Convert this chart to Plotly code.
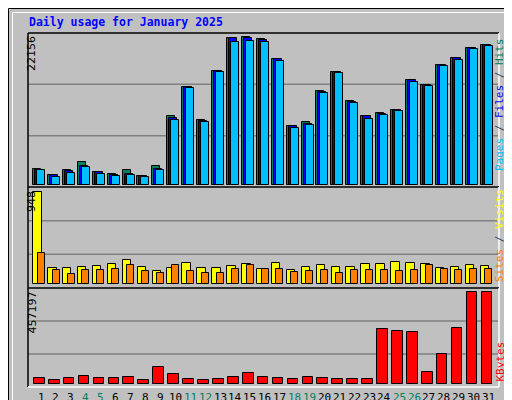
import numpy as np
import plotly.graph_objects as go

days = list(range(1, 32))
hits = [2355, 1455, 2205, 3405, 1905, 1605, 2205, 1305, 2805, 10305, 14655, 9705, 17055, 22005, 22156, 21855,
        18855, 8805, 9405, 14055, 16905, 12555, 10305, 10755, 11205, 15705, 14955, 17955, 19005, 20505, 20955]
files = [2205, 1455, 2055, 2805, 1905, 1530, 1605, 1305, 2355, 10005, 14655, 9555, 17055, 22005, 21950, 21705,
         18855, 8805, 9105, 13905, 16905, 12405, 10305, 10605, 11205, 15705, 14955, 17955, 19005, 20505, 20955]
pages = [2160, 1155, 1830, 2655, 1680, 1305, 1455, 1155, 2205, 9705, 14505, 9405, 16905, 21405, 21555, 21405,
         18555, 8505, 8955, 13755, 16755, 12255, 9855, 10455, 11055, 15405, 14805, 17805, 18705, 20355, 20805]
sites = [948, 165, 165, 175, 185, 206, 251, 175, 134, 165, 216, 165, 165, 185, 206, 155,
         216, 144, 175, 196, 175, 175, 206, 206, 227, 216, 206, 165, 175, 196, 185]
visits = [319, 144, 103, 144, 144, 155, 196, 134, 113, 196, 134, 113, 113, 155, 196, 155,
          155, 124, 134, 144, 113, 144, 144, 144, 134, 144, 196, 155, 144, 155, 155]
kbytes = [26700, 16700, 26700, 36700, 26700, 26700, 31700, 16700, 81760, 46720, 21690, 16700, 21690, 31700, 51730, 31700,
          26700, 21690, 31700, 26700, 21690, 21690, 21690, 271980, 261970, 256960, 56730, 146840, 276990, 457197, 457197]
weekend = [4, 5, 11, 12, 18, 19, 25, 26]

W, H = 512, 400
BG = "#C0C0C0"
C_HITS, C_FILES, C_PAGES = "#00805C", "#0000FF", "#00BFFF"
C_SITES, C_VISITS, C_KB = "#FF8000", "#FFFF00", "#FF0000"

def px(x):
    return x / W

def py(y):
    return 1 - y / H

# panels in pixels: (top, bottom, y of max bar top, y of baseline)
panels = [(25, 179, 29, 176.7), (179, 280, 184.3, 276.3), (280, 379, 284.3, 375.7)]
maxes = [max(hits), max(sites), max(kbytes)]

def yrange(p, m):
    top, bot, ytop, ybase = p
    s = m / (ybase - ytop)
    return [-(bot - ybase) * s, m + (ytop - top) * s]

d = np.array(days, dtype=float)
dpx = 14.92  # pixels per day

fig = go.Figure()
line = dict(color="black", width=1)
fig.add_bar(x=d - 4 / dpx, y=hits, width=8 / dpx, marker=dict(color=C_HITS, line=line), yaxis="y")
fig.add_bar(x=d - 2 / dpx, y=files, width=8 / dpx, marker=dict(color=C_FILES, line=line), yaxis="y")
fig.add_bar(x=d, y=pages, width=8 / dpx, marker=dict(color=C_PAGES, line=line), yaxis="y")
fig.add_bar(x=d - 3.6 / dpx, y=sites, width=8.5 / dpx, marker=dict(color=C_VISITS, line=line), xaxis="x2", yaxis="y2")
fig.add_bar(x=d + 0.2 / dpx, y=visits, width=7 / dpx, marker=dict(color=C_SITES, line=line), xaxis="x2", yaxis="y2")
fig.add_bar(x=d - 1.7 / dpx, y=kbytes, width=10.7 / dpx, marker=dict(color=C_KB, line=line), xaxis="x3", yaxis="y3")

xr = [1 - 13 / dpx, 1 + 458 / dpx]
xdom = [px(20), px(491)]
ticktext = [f'<span style="color:{C_HITS}">{v}</span>' if v in weekend else str(v) for v in days]

shapes = []
# outer frame
shapes.append(dict(type="rect", xref="paper", yref="paper", x0=px(507), x1=1, y0=0, y1=py(3),
                   fillcolor="#808080", line_width=0))
shapes.append(dict(type="rect", xref="paper", yref="paper", x0=px(3), x1=1, y0=0, y1=py(396),
                   fillcolor="#808080", line_width=0))
shapes.append(dict(type="rect", xref="paper", yref="paper", x0=px(0.5), x1=px(511.5), y0=py(399.5), y1=py(0.5),
                   line=dict(color="black", width=1)))
shapes.append(dict(type="line", xref="paper", yref="paper", x0=px(4.5), x1=px(507), y0=py(4.5), y1=py(4.5),
                   line=dict(color="white", width=1)))
shapes.append(dict(type="line", xref="paper", yref="paper", x0=px(4.5), x1=px(4.5), y0=py(4.5), y1=py(396),
                   line=dict(color="white", width=1)))
for top, bot, _, _ in panels:
    for k in (1, 2):
        gy = top + (bot - top) * k / 3
        shapes.append(dict(type="line", xref="paper", yref="paper", x0=px(20), x1=px(490), y0=py(gy), y1=py(gy),
                           line=dict(color="#808080", width=1.5), layer="below"))
    shapes.append(dict(type="line", xref="paper", yref="paper", x0=px(20), x1=px(491), y0=py(top), y1=py(top),
                       line=dict(color="black", width=1.5)))
    shapes.append(dict(type="line", xref="paper", yref="paper", x0=px(20), x1=px(20), y0=py(bot), y1=py(top),
                       line=dict(color="black", width=1.5)))
    shapes.append(dict(type="line", xref="paper", yref="paper", x0=px(491), x1=px(491), y0=py(bot), y1=py(top),
                       line=dict(color="white", width=1.5)))
shapes.append(dict(type="line", xref="paper", yref="paper", x0=px(20), x1=px(491), y0=py(379), y1=py(379),
                   line=dict(color="white", width=1.5)))

mono = "DejaVu Sans Mono"
ann = [
    dict(text="<b>Daily usage for January 2025</b>", x=px(19), y=py(14), xanchor="left", yanchor="middle",
         font=dict(family=mono, size=11.5, color="#0000FF")),
    dict(text=f"{maxes[0]}", x=px(15), y=py(26), yanchor="top", textangle=-90),
    dict(text=f"{maxes[1]}", x=px(15), y=py(181), yanchor="top", textangle=-90),
    dict(text=f"{maxes[2]}", x=px(15), y=py(282), yanchor="top", textangle=-90),
    dict(text=f'<span style="color:{C_PAGES}">Pages</span> / <span style="color:{C_FILES}">Files</span> / '
              f'<span style="color:{C_HITS}">Hits</span>',
         x=px(500), y=py(28), yanchor="top", textangle=-90, font=dict(family=mono, size=11)),
    dict(text=f'<span style="color:{C_SITES}">Sites</span> / <span style="color:{C_VISITS}">Visits</span>',
         x=px(500), y=py(276), yanchor="bottom", textangle=-90, font=dict(family=mono, size=11)),
    dict(text=f'<span style="color:{C_KB}">KBytes</span>',
         x=px(500), y=py(376), yanchor="bottom", textangle=-90, font=dict(family=mono, size=11)),
]
for i in days:
    ann.append(dict(text=ticktext[i - 1], x=i, xref="x3", y=py(389), yanchor="middle",
                    font=dict(family=mono, size=11, color="black")))
for a in ann:
    a.setdefault("xref", "paper")
    a.update(yref="paper", showarrow=False)
    a.setdefault("font", dict(family="DejaVu Sans", size=11, color="black"))

hidden = dict(showgrid=False, zeroline=False, showticklabels=False, ticks="", fixedrange=True, automargin=False)
fig.update_layout(
    width=W, height=H, autosize=False, margin=dict(l=0, r=0, t=0, b=0, pad=0),
    paper_bgcolor=BG, plot_bgcolor="rgba(0,0,0,0)", showlegend=False,
    barmode="overlay", bargap=0,
    xaxis=dict(domain=xdom, range=xr, anchor="y", **hidden),
    xaxis2=dict(domain=xdom, range=xr, anchor="y2", **hidden),
    xaxis3=dict(domain=xdom, range=xr, anchor="y3", **hidden),
    yaxis=dict(domain=[py(179), py(25)], range=yrange(panels[0], maxes[0]), anchor="x", **hidden),
    yaxis2=dict(domain=[py(280), py(179)], range=yrange(panels[1], maxes[1]), anchor="x2", **hidden),
    yaxis3=dict(domain=[py(379), py(280)], range=yrange(panels[2], maxes[2]), anchor="x3", **hidden),
    shapes=shapes, annotations=ann,
)
fig.write_html("out.html")
